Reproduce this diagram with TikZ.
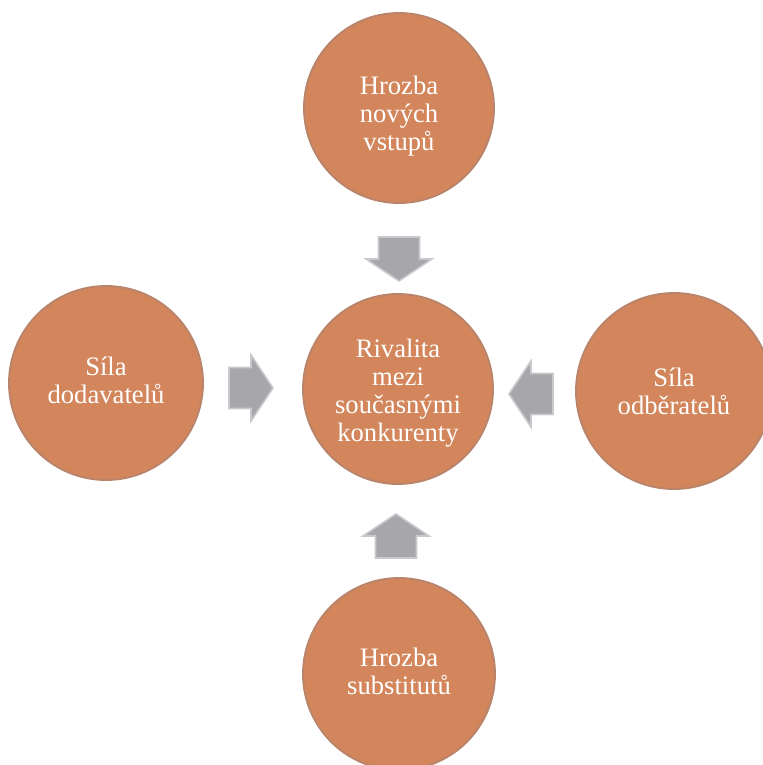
\documentclass[tikz,border=0pt]{standalone}
\usepackage{fontspec}
\setmainfont{Liberation Serif}
\definecolor{orangeC}{RGB}{211,134,91}
\definecolor{rimC}{RGB}{185,132,108}
\definecolor{arrowfill}{RGB}{166,166,171}
\definecolor{arrowedge}{RGB}{200,200,205}
\tikzset{
  force/.style={circle, draw=rimC, line width=1.4, fill=orangeC, minimum size=#1*0.75pt, inner sep=0pt},
  forcetext/.style={text=white, align=center, inner sep=0pt, font=\fontsize{20}{21}\selectfont},
  pics/blockarrow/.style={code={
    \fill[arrowfill, draw=arrowedge, line width=1.2, line join=miter]
      (-22,-20.5) -- (0,-20.5) -- (0,-33) -- (22,0) -- (0,33) -- (0,20.5) -- (-22,20.5) -- cycle;
  }}
}
\begin{document}
\begin{tikzpicture}[x=0.75pt,y=-0.75pt]
\useasboundingbox (0,0) rectangle (763,765);
\begin{scope}
\clip (0,0) rectangle (763,765);
\node[force=190] (top) at (399,108) {};
\node[force=190] (mid) at (398,389) {};
\node[force=194] (left) at (106,383) {};
\node[force=196] (right) at (674,391) {};
\node[force=192] (bottom) at (399,674) {};
\end{scope}
\node[forcetext] (topT) at (399,116) {Hrozba\\nových\\vstupů};
\node[forcetext] (midT) at (398,393) {Rivalita\\mezi\\současnými\\konkurenty};
\node[forcetext] (leftT) at (106,380) {Síla\\dodavatelů};
\node[forcetext] (rightT) at (674,391) {Síla\\odběratelů};
\node[forcetext] (bottomT) at (399,671) {Hrozba\\substitutů};
\pic[rotate=-90] at (399,259) {blockarrow};
\pic[rotate=0] at (251,388) {blockarrow};
\pic[rotate=180] at (531,394) {blockarrow};
\pic[rotate=90] at (396,536) {blockarrow};
\end{tikzpicture}
\end{document}
